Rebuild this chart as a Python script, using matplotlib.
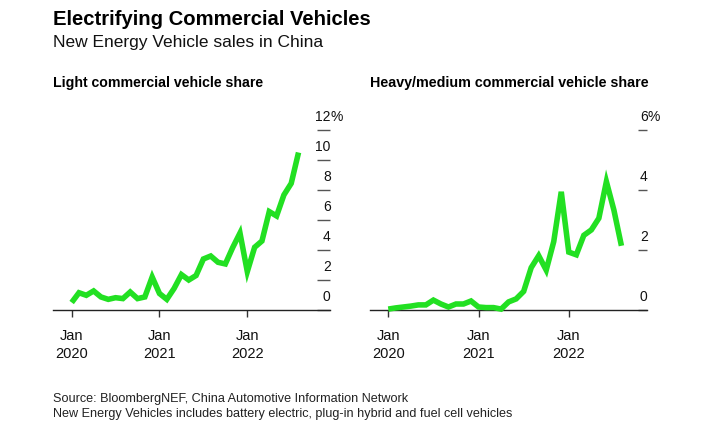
import matplotlib
matplotlib.use('Agg')
import matplotlib.pyplot as plt

plt.rcParams['font.family'] = ['Liberation Sans', 'DejaVu Sans']

# monthly, Jan 2020 .. Aug 2022
months = list(range(32))
light_share = [0.5, 1.15, 0.98, 1.27, 0.87, 0.71, 0.82, 0.76, 1.2, 0.76, 0.87, 2.2,
               1.1, 0.71, 1.44, 2.36, 2.0, 2.3, 3.4, 3.6, 3.18, 3.07, 4.16, 5.13,
               2.56, 4.18, 4.6, 6.56, 6.27, 7.67, 8.44, 10.5]
heavy_share = [0.03, 0.07, 0.1, 0.13, 0.17, 0.17, 0.33, 0.2, 0.1, 0.2, 0.2, 0.3,
               0.1, 0.08, 0.08, 0.03, 0.27, 0.37, 0.62, 1.41, 1.81, 1.33, 2.28, 3.94,
               1.93, 1.84, 2.49, 2.67, 3.06, 4.28, 3.33, 2.14]

xtick_pos = [0, 12, 24]
xtick_labels = ['Jan\n2020', 'Jan\n2021', 'Jan\n2022']
light_yticks = [0, 2, 4, 6, 8, 10, 12]
heavy_yticks = [0, 2, 4, 6]

W, H = 715, 446
GREEN = '#22e022'

fig = plt.figure(figsize=(W / 100, H / 100), dpi=100)


def add_ax(x0, x1, y0, y1):
    return fig.add_axes([x0 / W, 1 - y1 / H, (x1 - x0) / W, (y1 - y0) / H])


def draw_panel(ax, values, yticks, xlim, ticklen):
    ax.plot(months, values, color=GREEN, lw=4.0, solid_capstyle='butt',
            solid_joinstyle='miter', clip_on=False, zorder=3)
    ax.set_xlim(*xlim)
    ax.set_ylim(0, yticks[-1])
    for s in ['top', 'left', 'right']:
        ax.spines[s].set_visible(False)
    ax.spines['bottom'].set_linewidth(1.0)
    ax.spines['bottom'].set_color('#222222')
    ax.set_xticks(xtick_pos)
    ax.set_xticklabels(xtick_labels, fontsize=10.5, color='#111111')
    for t in ax.get_xticklabels():
        t.set_linespacing(1.3)
    ax.tick_params(axis='x', length=5, width=1, color='#333333', pad=9)
    ax.yaxis.set_ticks_position('right')
    ax.set_yticks(yticks)
    ax.set_yticklabels([])
    ax.tick_params(axis='y', direction='in', length=ticklen, width=1,
                   color='#555555', right=True, left=False)
    tr = ax.get_yaxis_transform()
    for v in yticks:
        ax.annotate(str(v), xy=(1, v), xycoords=tr, xytext=(0.5, 4),
                    textcoords='offset points', ha='right', va='bottom',
                    fontsize=10, color='#111111')
    ax.annotate('%', xy=(1, yticks[-1]), xycoords=tr, xytext=(0.5, 4),
                textcoords='offset points', ha='left', va='bottom',
                fontsize=10, color='#111111')


ax1 = add_ax(53, 330, 130, 310)
draw_panel(ax1, light_share, light_yticks, (-2.55, 35.3), 9.5)

ax2 = add_ax(370, 647, 130, 310)
draw_panel(ax2, heavy_share, heavy_yticks, (-2.43, 34.4), 6.5)

fig.text(53 / W, 1 - 25 / H, 'Electrifying Commercial Vehicles', fontsize=14.6,
         fontweight='bold', va='baseline', ha='left', color='#000000')
fig.text(53 / W, 1 - 47 / H, 'New Energy Vehicle sales in China', fontsize=12.5,
         va='baseline', ha='left', color='#111111')
fig.text(53 / W, 1 - 87 / H, 'Light commercial vehicle share', fontsize=10.2,
         fontweight='bold', va='baseline', ha='left', color='#000000')
fig.text(370 / W, 1 - 87 / H, 'Heavy/medium commercial vehicle share', fontsize=10.25,
         fontweight='bold', va='baseline', ha='left', color='#000000')
fig.text(53 / W, 1 - 402 / H,
         'Source: BloombergNEF, China Automotive Information Network',
         fontsize=9.1, va='baseline', ha='left', color='#222222')
fig.text(53 / W, 1 - 417 / H,
         'New Energy Vehicles includes battery electric, plug-in hybrid and fuel cell vehicles',
         fontsize=9.05, va='baseline', ha='left', color='#222222')

fig.savefig('out.png', dpi=100)
